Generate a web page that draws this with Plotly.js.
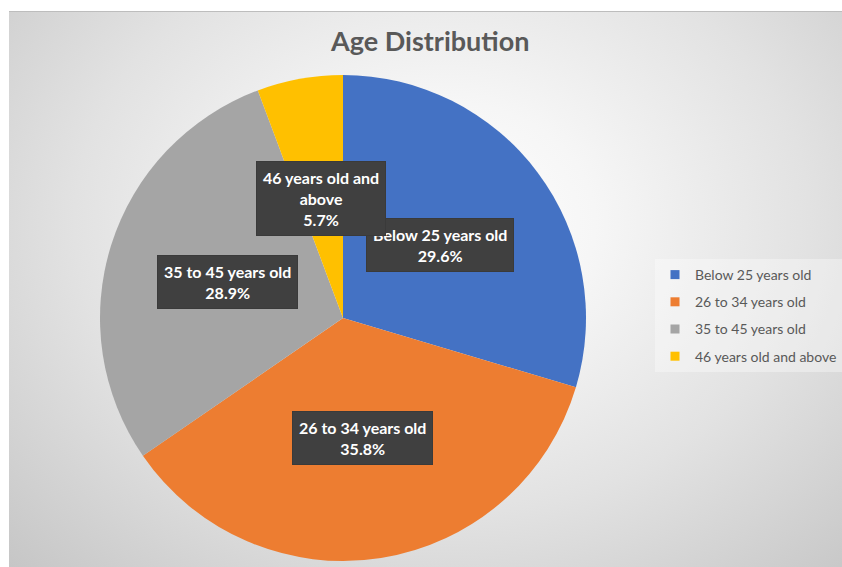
<!DOCTYPE html>
<html>
<head>
<meta charset="utf-8">
<script src="https://cdn.plot.ly/plotly-3.0.1.min.js"></script>
<style>
  html, body { margin: 0; padding: 0; background: #ffffff; }
  #wrap { position: relative; width: 842px; height: 567px; overflow: hidden; }
  #bg { position: absolute; left: 9px; top: 11px; right: 0; bottom: 0;
        background: radial-gradient(ellipse farthest-corner at 52% 38%, #ffffff 0%, #f6f6f6 25%, #e2e2e2 60%, #c6c6c6 100%);
        border-top: 1px solid #bdbdbd; }
  #chart { position: absolute; left: 0; top: 0; width: 842px; height: 567px; }
</style>
</head>
<body>
<div id="wrap">
  <div id="bg"></div>
  <div id="chart"></div>
</div>
<script>
// ---- data ----
const categories = ["Below 25 years old", "26 to 34 years old", "35 to 45 years old", "46 years old and above"];
const shares = [29.6, 35.8, 28.9, 5.7];
const colors = ["#4472C4", "#ED7D31", "#A5A5A5", "#FFC000"];
const chartTitle = "Age Distribution";

// ---- layout geometry ----
const W = 842, H = 567;
const domX = [100 / W, 586 / W];
const domY = [6 / H, 492 / H];
const labelRadiusFrac = 0.5;

function wrap(text, maxLen) {
  const words = text.split(" ");
  const lines = [];
  let cur = "";
  words.forEach(w => {
    if (cur && (cur + " " + w).length > maxLen) { lines.push(cur); cur = w; }
    else cur = cur ? cur + " " + w : w;
  });
  if (cur) lines.push(cur);
  return lines.join("<br>");
}

const pie = {
  type: "pie",
  labels: categories,
  values: shares,
  sort: false,
  direction: "clockwise",
  rotation: 0,
  marker: { colors: colors, line: { width: 0 } },
  textinfo: "none",
  hoverinfo: "label+percent",
  showlegend: false,
  domain: { x: domX, y: domY }
};

// legend entries (one per category so the gap between entries can be set)
const legendTraces = categories.map((c, i) => ({
  type: "scatter",
  mode: "markers",
  x: [null], y: [null],
  name: c,
  legendgroup: "g" + i,
  marker: { symbol: "square", size: 9, color: colors[i] },
  hoverinfo: "skip"
}));

// label boxes, placed at mid-angle of each slice through the pie's geometry
const total = shares.reduce((a, b) => a + b, 0);
const cxPx = W * (domX[0] + domX[1]) / 2;
const cyPx = H * (1 - (domY[0] + domY[1]) / 2);
const rPx = Math.min(W * (domX[1] - domX[0]), H * (domY[1] - domY[0])) / 2;
let cum = 0;
const annotations = shares.map((v, i) => {
  const mid = (cum + v / 2) / total * 2 * Math.PI;
  cum += v;
  const px = cxPx + labelRadiusFrac * rPx * Math.sin(mid);
  const py = cyPx - labelRadiusFrac * rPx * Math.cos(mid);
  const pct = (v / total * 100).toFixed(1) + "%";
  return {
    xref: "paper", yref: "paper",
    x: px / W, y: 1 - py / H,
    xanchor: "center", yanchor: "middle",
    text: wrap(categories[i], 18) + "<br>" + pct,
    showarrow: false,
    align: "center",
    bgcolor: "#404040",
    bordercolor: "#3a3a3a",
    borderwidth: 1,
    borderpad: 6,
    font: { family: "Lato, 'Open Sans', sans-serif", size: 16, color: "#ffffff", weight: 700 }
  };
});

const layout = {
  width: W, height: H,
  margin: { l: 0, r: 0, t: 0, b: 0, autoexpand: false },
  paper_bgcolor: "rgba(0,0,0,0)",
  plot_bgcolor: "rgba(0,0,0,0)",
  title: {
    text: "<b>" + chartTitle + "</b>",
    x: 0.511, xanchor: "center",
    y: 1 - 42 / H, yanchor: "middle",
    font: { family: "Lato, 'Open Sans', sans-serif", size: 27, color: "#595959" }
  },
  xaxis: { visible: false },
  yaxis: { visible: false },
  showlegend: true,
  legend: {
    x: 655 / W, xanchor: "left",
    y: 1 - 259 / H, yanchor: "top",
    bgcolor: "rgba(255,255,255,0.35)",
    borderwidth: 0,
    tracegroupgap: 6,
    itemclick: false,
    font: { family: "Lato, 'Open Sans', sans-serif", size: 14, color: "#595959" }
  },
  annotations: annotations
};

Plotly.newPlot("chart", [pie].concat(legendTraces), layout, { displayModeBar: false, staticPlot: true });
</script>
</body>
</html>
